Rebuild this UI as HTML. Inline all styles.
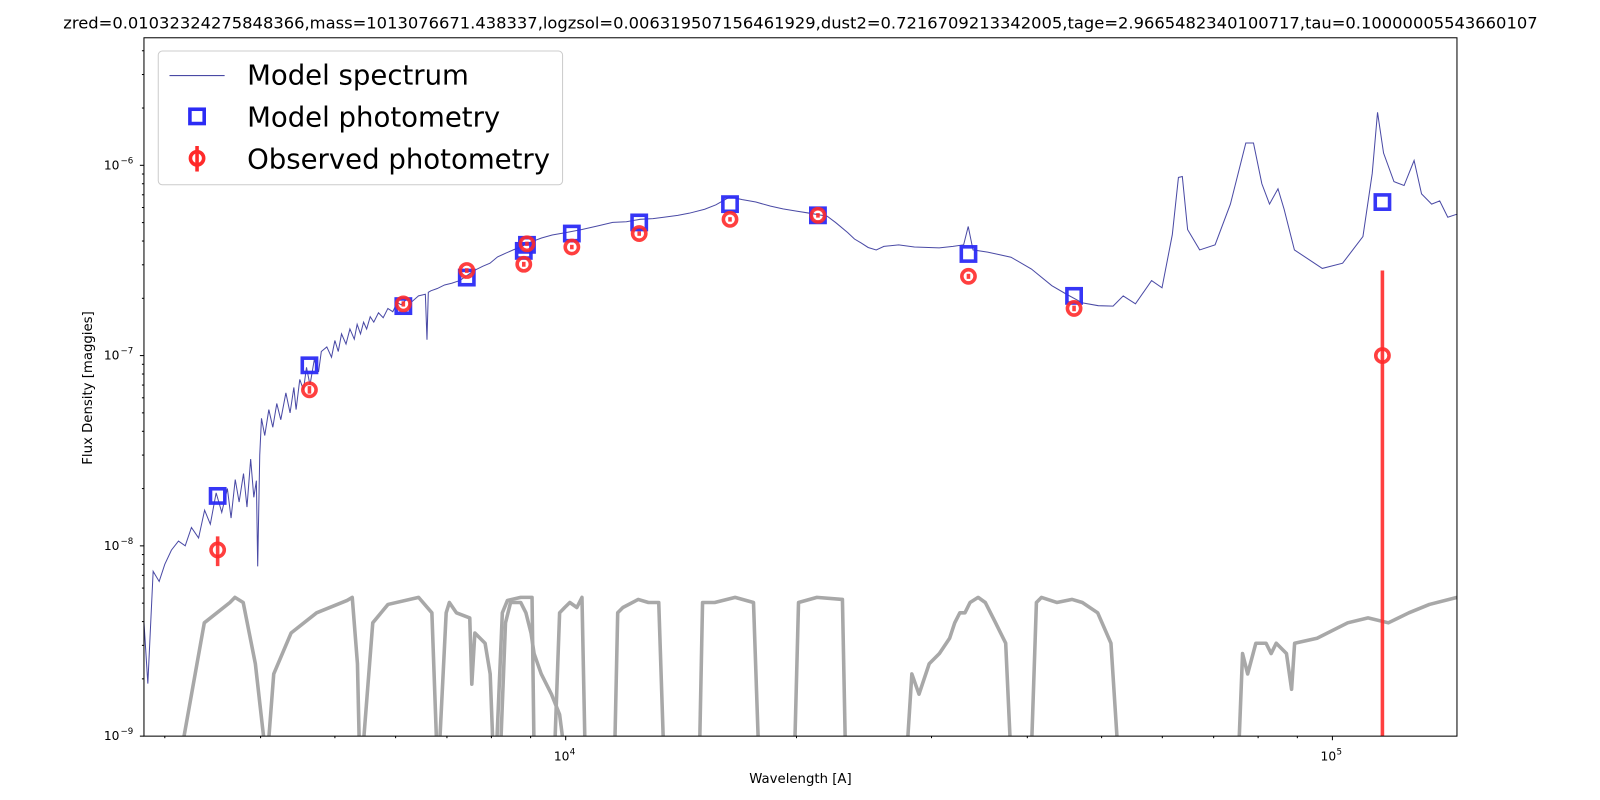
<!DOCTYPE html>
<html><head><meta charset="utf-8">
<style>
html,body{margin:0;padding:0;background:#fff;width:1600px;height:800px;overflow:hidden;}
svg{display:block;font-family:"DejaVu Sans","Liberation Sans",sans-serif;}
</style></head>
<body>
<svg id="chart" width="1600" height="800" viewBox="0 0 1600 800" xmlns="http://www.w3.org/2000/svg">
<defs><clipPath id="plotclip"><rect x="141" y="37" width="1286" height="684"/></clipPath></defs>
<rect width="1600" height="800" fill="#fff"/>
<g transform="scale(1.021)">
<text x="784" y="28" font-size="16" text-anchor="middle">zred=0.01032324275848366,mass=1013076671.438337,logzsol=0.006319507156461929,dust2=0.7216709213342005,tage=2.9665482340100717,tau=0.10000005543660107</text>
<g id="plot" clip-path="url(#plotclip)"></g>
<rect x="141" y="37" width="1286" height="684" fill="none" stroke="#000" stroke-width="1"/>
<g id="axes"></g>
<text x="784" y="767" font-size="13" text-anchor="middle">Wavelength [A]</text>
<text transform="translate(90,380) rotate(-90)" font-size="13" text-anchor="middle">Flux Density [maggies]</text>
<g>
<rect x="155" y="50" width="396" height="131" rx="4" fill="#fff" fill-opacity="0.8" stroke="#ccc"/>
<line x1="166" y1="74" x2="220" y2="74" stroke="#4a4aa5" stroke-width="1"/>
<text x="242" y="83" font-size="27">Model spectrum</text>
<rect x="186" y="107" width="14" height="14" fill="none" stroke="#2b2bf5" stroke-width="3.5"/>
<text x="242" y="124" font-size="27">Model photometry</text>
<line x1="193" y1="143" x2="193" y2="168" stroke="#ff2a2a" stroke-width="3.5"/>
<circle cx="193" cy="155" r="6.5" fill="none" stroke="#ff2a2a" stroke-width="3.5"/>
<text x="242" y="165" font-size="27">Observed photometry</text>
</g>
</g>
</svg>
<script>
// ---- data ----
const specWave = [2818,2851,2897,2950,3000,3060,3126,3190,3250,3320,3381,3440,3500,3560,3620,3660,3707,3750,3800,3840,3882,3920,3950,3966,3990,4011,4050,4100,4150,4200,4250,4315,4370,4420,4450,4500,4550,4592,4640,4700,4760,4800,4880,4950,5000,5050,5100,5170,5230,5300,5346,5400,5450,5500,5560,5620,5700,5780,5862,5950,6030,6100,6200,6300,6428,6560,6592,6620,6671,6800,6950,7100,7275,7450,7600,7800,7966,8150,8350,8550,8733,9000,9300,9600,10000,10500,11000,11515,12000,12500,13000,13425,14000,14500,15180,15700,16370,17000,17700,18500,19200,20000,20800,21930,22500,23330,23800,24300,24800,25410,26000,27180,28500,30700,32000,33040,33500,33980,35500,38090,40500,43060,45000,47210,49500,51760,53350,55350,58100,59950,61830,62980,63720,64740,67120,70310,73620,77090,78890,80910,82790,84920,86490,89230,97000,103100,109600,112700,114500,116600,120300,124000,127800,130700,134700,138000,141400,145200];
const specFlux = [3.96e-9,1.89e-9,7.35e-9,6.5e-9,8.0e-9,9.5e-9,1.06e-8,1.0e-8,1.25e-8,1.1e-8,1.54e-8,1.3e-8,1.9e-8,1.5e-8,2.0e-8,1.4e-8,2.23e-8,1.7e-8,2.4e-8,1.6e-8,2.86e-8,1.8e-8,2.2e-8,7.8e-9,3.0e-8,4.68e-8,3.8e-8,5.2e-8,4.2e-8,5.6e-8,4.6e-8,6.37e-8,5.0e-8,6.8e-8,5.2e-8,7.5e-8,6.6e-8,8.67e-8,7.0e-8,9.5e-8,8.2e-8,1.05e-7,1.11e-7,9.8e-8,1.2e-7,1.05e-7,1.3e-7,1.15e-7,1.38e-7,1.22e-7,1.46e-7,1.3e-7,1.5e-7,1.38e-7,1.6e-7,1.5e-7,1.68e-7,1.58e-7,1.77e-7,1.7e-7,1.9e-7,1.85e-7,1.98e-7,1.92e-7,2.06e-7,2.1e-7,1.21e-7,2.15e-7,2.19e-7,2.25e-7,2.35e-7,2.4e-7,2.48e-7,2.65e-7,2.8e-7,2.95e-7,3.06e-7,3.3e-7,3.45e-7,3.6e-7,3.72e-7,3.95e-7,4.15e-7,4.3e-7,4.43e-7,4.6e-7,4.8e-7,5.01e-7,5.05e-7,5.2e-7,5.25e-7,5.33e-7,5.45e-7,5.6e-7,5.88e-7,6.2e-7,6.82e-7,6.6e-7,6.41e-7,6.1e-7,5.9e-7,5.74e-7,5.6e-7,5.40e-7,5.0e-7,4.43e-7,4.1e-7,3.9e-7,3.7e-7,3.59e-7,3.75e-7,3.82e-7,3.72e-7,3.68e-7,3.75e-7,3.82e-7,4.77e-7,3.59e-7,3.5e-7,3.29e-7,2.85e-7,2.33e-7,2.1e-7,1.89e-7,1.83e-7,1.82e-7,2.06e-7,1.87e-7,2.48e-7,2.27e-7,4.32e-7,8.63e-7,8.73e-7,4.59e-7,3.59e-7,3.82e-7,6.25e-7,1.31e-6,1.31e-6,8.0e-7,6.25e-7,7.53e-7,5.88e-7,3.59e-7,2.87e-7,3.06e-7,4.22e-7,9.06e-7,1.90e-6,1.16e-6,8.21e-7,7.83e-7,1.06e-6,7.08e-7,6.25e-7,6.5e-7,5.33e-7,5.53e-7];
const photWave = [3516,4632,6141,7430,8817,8902,10186,12470,16380,21330,33520,46030,116200];
const modelFlux = [1.83e-8,8.89e-8,1.82e-7,2.57e-7,3.55e-7,3.82e-7,4.38e-7,5.01e-7,6.25e-7,5.46e-7,3.42e-7,2.06e-7,6.41e-7];
const obsFlux = [9.52e-9,6.61e-8,1.87e-7,2.80e-7,3.02e-7,3.87e-7,3.72e-7,4.38e-7,5.20e-7,5.46e-7,2.61e-7,1.77e-7,1.0e-7];
const obsErr = [1.7e-9,3e-9,6e-9,8e-9,9e-9,1e-8,1e-8,1.2e-8,1.4e-8,1.5e-8,8e-9,6e-9,1.8e-7];
const filterWaves = [
 [3148,3378,3648,3703,3796,3937,4060],
 [4085,4161,4384,4733,5188,5268,5350,5383],
 [5433,5602,5865,6430,6690,6795],
 [6837,6985,7050,7202,7497,7543,7613,7849,7971,8044],
 [8118,8268,8396,8737,9039,9094],
 [8218,8345,8474,8737,8873,9010,9094,9291,9581,9818,9969],
 [9669,9818,9969,10123,10342,10502,10600],
 [11584,11692,11874,12432,12822,13222,13425],
 [14944,15081,15645,16634,17579,17852],
 [19880,20124,21264,22960,23172],
 [27850,28280,28890,29790,30720,31680,32170,32660,33170,33680,34510,35260,36360,37490,38070],
 [40480,41110,41740,43710,45760,47190,49410,51420,52540],
 [75430,76360,77540,79450,81920,83200,84490,87110,88460,89280,95500,104700,111300,118300,125800,133800,145400]
];
const filterTrans = [
 [0.15,0.735,0.94,1.0,0.94,0.448,0.15],
 [0.15,0.396,0.65,0.83,0.964,1.0,0.448,0.15],
 [0.15,0.735,0.918,1.0,0.83,0.15],
 [0.15,0.83,0.94,0.83,0.78,0.35,0.65,0.574,0.396,0.15],
 [0.15,0.83,0.964,1.0,1.0,0.15],
 [0.15,0.735,0.94,0.94,0.83,0.65,0.507,0.396,0.31,0.242,0.15],
 [0.15,0.83,0.885,0.94,0.885,1.0,0.15],
 [0.15,0.83,0.885,0.976,0.94,0.94,0.15],
 [0.15,0.94,0.94,1.0,0.94,0.15],
 [0.15,0.94,1.0,0.976,0.15],
 [0.15,0.396,0.31,0.448,0.507,0.61,0.735,0.83,0.83,0.94,1.0,0.94,0.735,0.574,0.15],
 [0.15,0.94,1.0,0.94,0.976,0.94,0.83,0.574,0.15],
 [0.15,0.507,0.396,0.574,0.574,0.507,0.574,0.507,0.329,0.574,0.61,0.735,0.78,0.735,0.83,0.918,1.0]
];
const filterPeak = 5.36e-9;
const yMajorTicks = [1e-9,1e-8,1e-7,1e-6];
const yMajorLabels = ["10","10","10","10"];
const yMajorExps = ["−9","−8","−7","−6"];
const xMajorTicks = [1e4,1e5];
const xMajorExps = ["4","5"];

// ---- scales ----
const X0=141,X1=1427,Y0=721,Y1=37;
const LX0=Math.log10(2818),LX1=5+122/751;
const LY0=-9,LY1=-6+125/186.5;
const xs=v=>X0+(Math.log10(v)-LX0)/(LX1-LX0)*(X1-X0);
const ys=v=>Y0-(Math.log10(Math.max(v,1e-12))-LY0)/(LY1-LY0)*(Y0-Y1);
const NS="http://www.w3.org/2000/svg";
const plot=document.getElementById('plot'), axes=document.getElementById('axes');
function mk(tag,attrs,parent){const e=document.createElementNS(NS,tag);for(const k in attrs)e.setAttribute(k,attrs[k]);parent.appendChild(e);return e;}

filterWaves.forEach((w,i)=>{
  const d=w.map((v,j)=>(j?'L':'M')+xs(v).toFixed(1)+','+ys(filterTrans[i][j]*filterPeak).toFixed(1)).join('');
  const p=mk('path',{d:d,fill:'none',stroke:'#a8a8a8','stroke-width':3.5,'stroke-linejoin':'round'},plot);
  
  
});
{
  const d=specWave.map((v,j)=>(j?'L':'M')+xs(v).toFixed(1)+','+ys(specFlux[j]).toFixed(1)).join('');
  const p=mk('path',{d:d,fill:'none',stroke:'#4a4aa5','stroke-width':1},plot);
  
  
}
photWave.forEach((w,i)=>{
  const cx=xs(w),cy=ys(modelFlux[i]);
  const r=mk('rect',{x:cx-7,y:cy-7,width:14,height:14,fill:'none',stroke:'#2b2bf5','stroke-opacity':0.95,'stroke-width':3.5},plot);
  
  
});
photWave.forEach((w,i)=>{
  const cx=xs(w),cy=ys(obsFlux[i]);
  const lo=obsFlux[i]-obsErr[i];
  const y2=lo>0?ys(lo):Y0+5;
  const l=mk('line',{x1:cx,x2:cx,y1:ys(obsFlux[i]+obsErr[i]),y2:y2,stroke:'#ff2a2a','stroke-opacity':0.9,'stroke-width':3.5},plot);
  
  
  const c=mk('circle',{cx:cx,cy:cy,r:6.5,fill:'none',stroke:'#ff2a2a','stroke-opacity':0.9,'stroke-width':3.5},plot);
  
  
});
for(let e=-9;e<=-6;e++){
  for(let m=1;m<=9;m++){
    const v=m*Math.pow(10,e); const y=ys(v);
    if(y<Y1-0.5) continue;
    const t=mk('line',{x1:X0,x2:X0-(m===1?4:2),y1:y,y2:y,stroke:'#000','stroke-width':1},axes);
    
    
  }
}
yMajorTicks.forEach((v,i)=>{
  const y=ys(v);
  const t=mk('text',{x:X0-24,y:y+4,'font-size':12,'text-anchor':'end'},axes);
  t.textContent=yMajorLabels[i];
  
  
  const s=mk('text',{x:X0-23,y:y-2,'font-size':8.5},axes);
  s.textContent=yMajorExps[i];
});
for(let e=3;e<=5;e++){
  for(let m=1;m<=9;m++){
    const v=m*Math.pow(10,e); const x=xs(v);
    if(x<X0-0.5||x>X1+0.5) continue;
    const t=mk('line',{x1:x,x2:x,y1:Y0,y2:Y0+(m===1?4:2),stroke:'#000','stroke-width':1},axes);
    
    
  }
}
xMajorTicks.forEach((v,i)=>{
  const x=xs(v);
  const t=mk('text',{x:x-4,y:Y0+24,'font-size':12,'text-anchor':'middle'},axes);
  t.textContent='10';
  
  
  const s=mk('text',{x:x+4,y:Y0+18,'font-size':8.5},axes);
  s.textContent=xMajorExps[i];
});
</script>
</body></html>
